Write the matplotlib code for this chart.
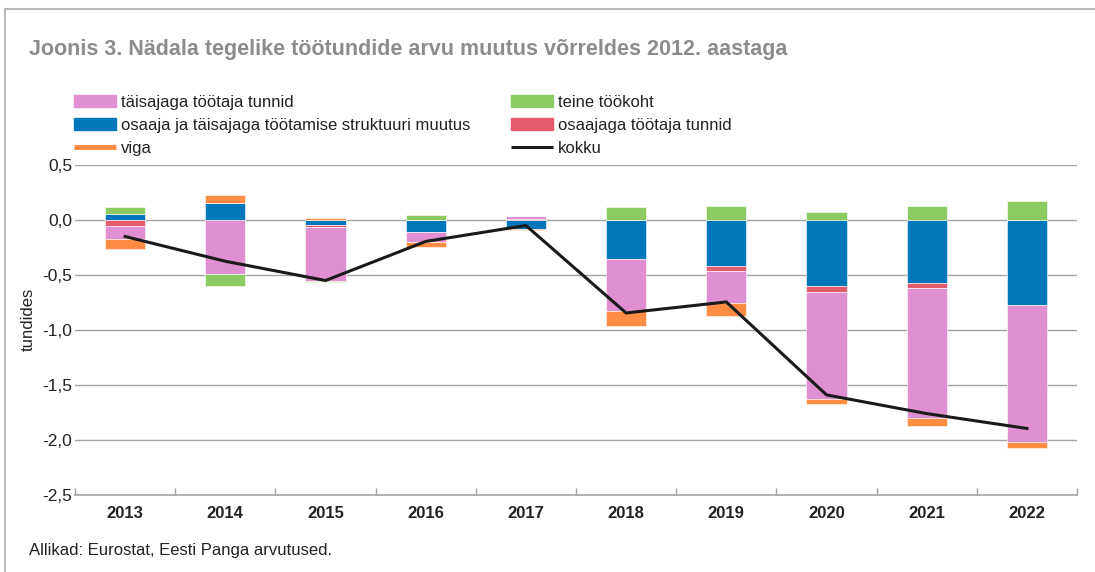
import numpy as np
import matplotlib
matplotlib.use('Agg')
import matplotlib.pyplot as plt
from matplotlib.patches import Patch
from matplotlib.lines import Line2D
from matplotlib.ticker import FuncFormatter, FixedLocator

plt.rcParams['font.family'] = ['Liberation Sans', 'DejaVu Sans']

# Data (hours per week, change vs 2012)
years = ['2013', '2014', '2015', '2016', '2017', '2018', '2019', '2020', '2021', '2022']
struktuur = [0.057, 0.155, -0.043, -0.105, -0.08, -0.35, -0.418, -0.597, -0.57, -0.77]
osaaja = [-0.052, 0.0, -0.025, 0.0, 0.01, 0.0, -0.042, -0.055, -0.045, 0.0]
taisaja = [-0.118, -0.488, -0.485, -0.095, 0.03, -0.48, -0.298, -0.975, -1.182, -1.25]
viga = [-0.09, 0.07, 0.022, -0.045, -0.01, -0.13, -0.115, -0.046, -0.076, -0.05]
teine = [0.058, -0.11, -0.012, 0.048, 0.0, 0.115, 0.124, 0.075, 0.13, 0.175]
kokku = [-0.15, -0.375, -0.55, -0.195, -0.05, -0.845, -0.745, -1.59, -1.76, -1.895]

c_pink = '#e08fd2'
c_blue = '#0077bb'
c_orange = '#ff8c42'
c_green = '#8bcb61'
c_red = '#e25c6e'
grey = '#a3a3a3'
txt = '#222222'

fig = plt.figure(figsize=(10.95, 5.72), dpi=100)
W, H = 1095, 572
ax = fig.add_axes([75 / W, 1 - 495 / H, (1077 - 75) / W, (495 - 165) / H])

x = np.arange(len(years))
pos = np.zeros(len(years))
neg = np.zeros(len(years))
# stacking order as in the original (positive and negative stacked separately)
for vals, col in [(struktuur, c_blue), (osaaja, c_red), (taisaja, c_pink),
                  (viga, c_orange), (teine, c_green)]:
    v = np.array(vals)
    bottom = np.where(v >= 0, pos, neg)
    ax.bar(x, v, bottom=bottom, width=0.4, color=col,
           edgecolor='white', linewidth=0.4, zorder=3)
    pos = pos + np.where(v >= 0, v, 0)
    neg = neg + np.where(v < 0, v, 0)

ax.plot(x, kokku, color='#1a1a1a', linewidth=2.2, zorder=4)

ax.set_xlim(-0.5, len(years) - 0.5)
ax.set_ylim(-2.5, 0.5)
ax.set_yticks(np.arange(-2.5, 0.51, 0.5))
ax.yaxis.set_major_formatter(FuncFormatter(lambda v, p: f'{v:.1f}'.replace('.', ',')))
ax.tick_params(axis='y', length=0, pad=2, labelsize=12.5, labelcolor=txt)
for yv in np.arange(-2.0, 0.51, 0.5):
    ax.axhline(yv, color=grey, linewidth=1.0, zorder=1)

ax.set_xticks(x)
ax.set_xticklabels(years, fontweight='bold')
ax.tick_params(axis='x', which='major', length=0, pad=8, labelsize=12, labelcolor=txt)
ax.xaxis.set_minor_locator(FixedLocator(np.arange(-0.5, len(years), 1.0)))
ax.tick_params(axis='x', which='minor', direction='in', length=5, width=1.0, color=grey)

for s in ['top', 'right', 'left']:
    ax.spines[s].set_visible(False)
ax.spines['bottom'].set_color(grey)
ax.spines['bottom'].set_linewidth(1.2)

# frame lines on top and left of the figure
fig.add_artist(Line2D([5 / W, 5 / W], [0, 1 - 9 / H], color='#bbbbbb', linewidth=1.5))
fig.add_artist(Line2D([5 / W, 1], [1 - 9 / H, 1 - 9 / H], color='#bbbbbb', linewidth=1.5))

fig.text(29 / W, 1 - 50 / H, 'Joonis 3. Nädala tegelike töötundide arvu muutus võrreldes 2012. aastaga',
         fontsize=15.5, fontweight='bold', color='#8c8c8c', va='center', ha='left')
fig.text(28 / W, 1 - 319 / H, 'tundides', rotation=90, fontsize=12, color=txt,
         va='center', ha='center')
fig.text(29 / W, 1 - 551 / H, 'Allikad: Eurostat, Eesti Panga arvutused.',
         fontsize=12, color=txt, va='center', ha='left')

leg_kw = dict(loc='upper left', frameon=False, fontsize=12, handlelength=2.5,
              handleheight=0.7, handletextpad=0.3, labelspacing=0.47,
              borderpad=0, borderaxespad=0, labelcolor=txt)
h1 = [Patch(color=c_pink), Patch(color=c_blue),
      Line2D([], [], color=c_orange, linewidth=3.6, solid_capstyle='butt')]
l1 = ['täisajaga töötaja tunnid', 'osaaja ja täisajaga töötamise struktuuri muutus', 'viga']
h2 = [Patch(color=c_green), Patch(color=c_red),
      Line2D([], [], color='#1a1a1a', linewidth=2.2, solid_capstyle='butt')]
l2 = ['teine töökoht', 'osaajaga töötaja tunnid', 'kokku']
fig.legend(h1, l1, bbox_to_anchor=(74 / W, 1 - 95 / H), **leg_kw)
fig.legend(h2, l2, bbox_to_anchor=(511 / W, 1 - 95 / H), **leg_kw)

fig.savefig('out.png', dpi=100)
